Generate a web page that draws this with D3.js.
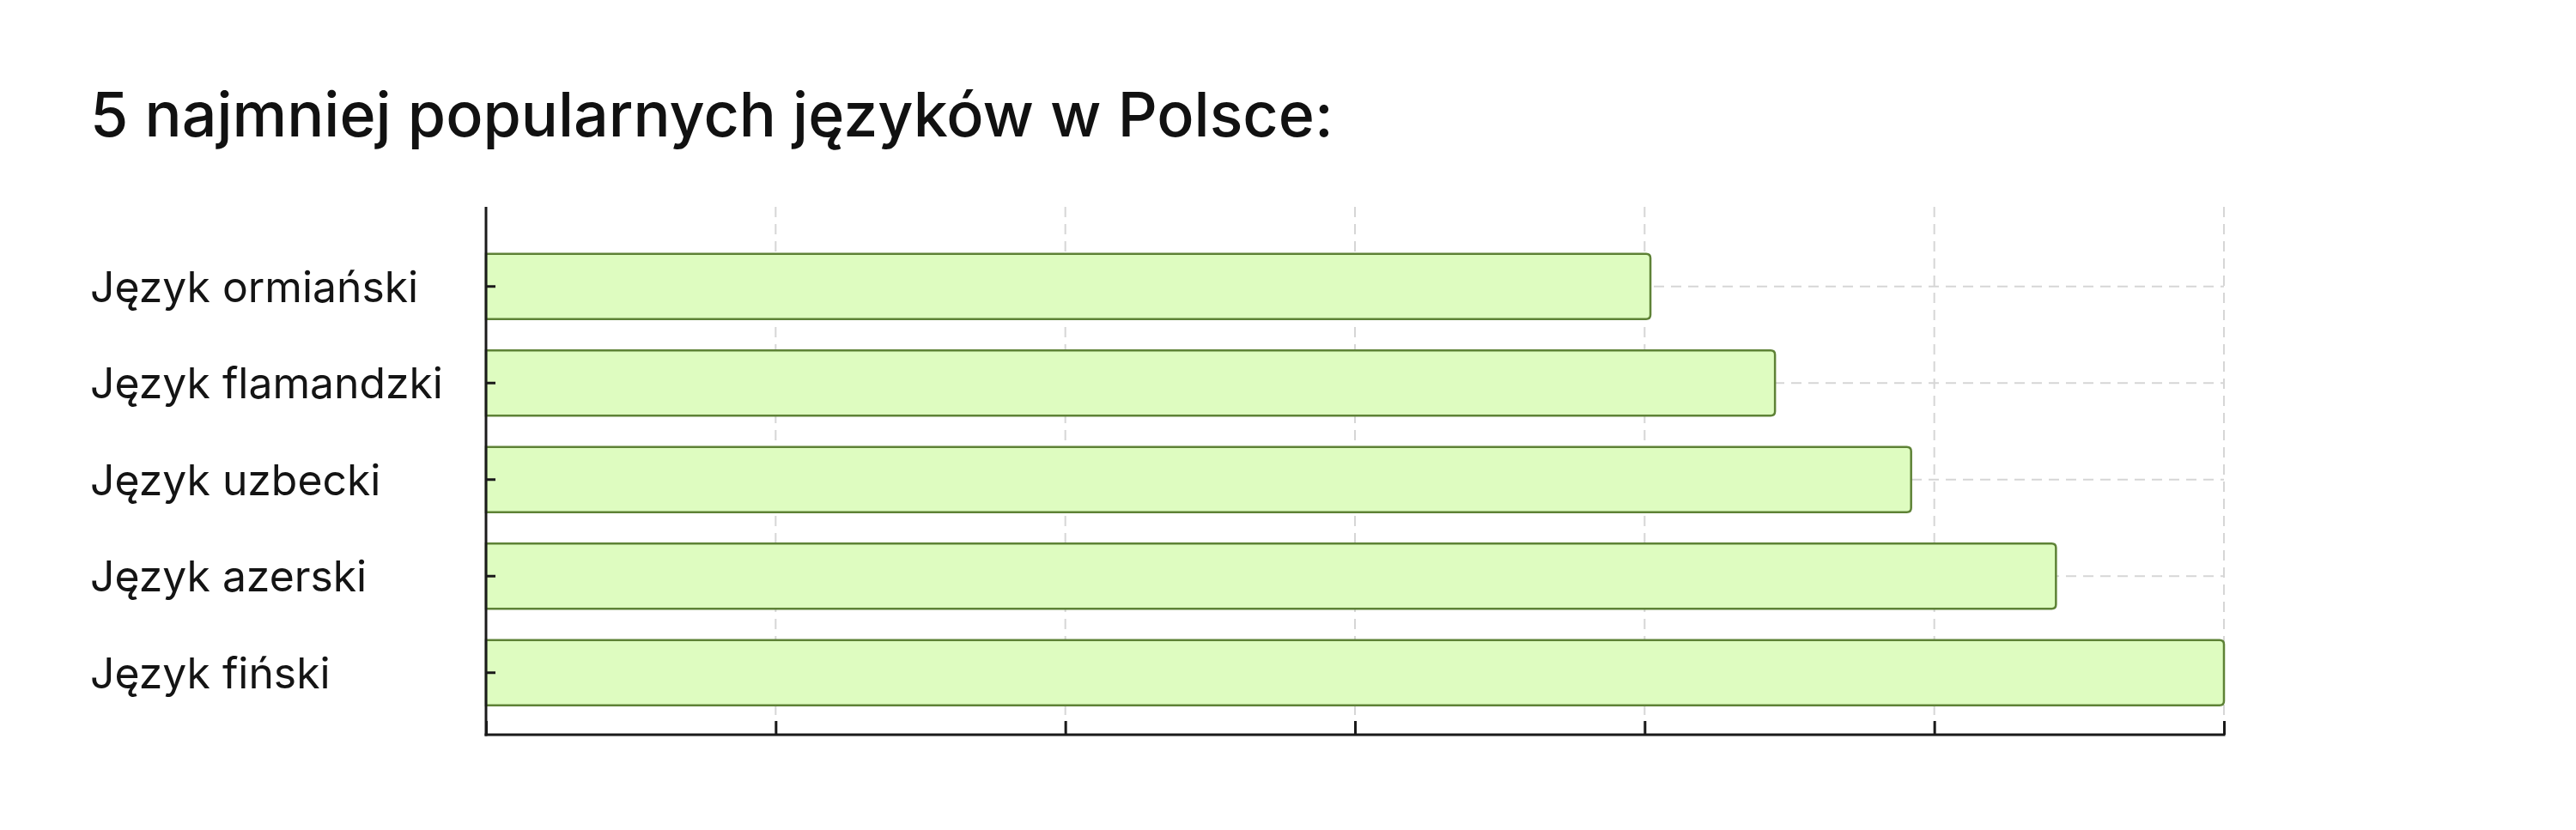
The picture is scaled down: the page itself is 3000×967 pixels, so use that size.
<!DOCTYPE html>
<html>
<head>
<meta charset="utf-8">
<script src="https://cdn.jsdelivr.net/npm/d3@7"></script>
<style>
  html, body { margin: 0; padding: 0; background: #ffffff; }
  svg { display: block; }
</style>
</head>
<body>
<svg id="chart" width="3000" height="967"></svg>
<script>
// ---- data ----
const title = "5 najmniej popularnych języków w Polsce:";
const categories = ["Język ormiański", "Język flamandzki", "Język uzbecki", "Język azerski", "Język fiński"];
const values = [402, 445, 492, 542, 600];
const xTicks = [0, 100, 200, 300, 400, 500, 600];

// ---- layout ----
const W = 3000, H = 967;
const plotLeft = 566, plotRight = 2590, plotTop = 241, plotBottom = 856;
const fontFamily = "Inter, 'Noto Sans', sans-serif";

const svg = d3.select("#chart");
svg.append("rect").attr("width", W).attr("height", H).attr("fill", "#ffffff");

const x = d3.scaleLinear().domain([0, 600]).range([plotLeft, plotRight]);
const y = d3.scaleBand().domain(categories).range([277.5, 840])
  .paddingInner(0.324).paddingOuter(0.162);

// title
const t = svg.append("text")
  .attr("x", 105).attr("y", 159)
  .attr("font-family", fontFamily)
  .attr("font-size", 70)
  .attr("font-weight", 500)
  .attr("fill", "#111111")
  .text(title);
{
  const len = t.node().getComputedTextLength();
  t.attr("font-size", 70 * 1448 / len);
}

// vertical grid lines
svg.append("g").selectAll("line").data(xTicks.slice(1)).join("line")
  .attr("x1", d => x(d)).attr("x2", d => x(d))
  .attr("y1", plotTop).attr("y2", plotBottom)
  .attr("stroke", "#d6d6d6").attr("stroke-width", 2)
  .attr("stroke-dasharray", "12,8");

// horizontal grid lines at category centers
svg.append("g").selectAll("line").data(categories).join("line")
  .attr("x1", plotLeft).attr("x2", plotRight)
  .attr("y1", d => y(d) + y.bandwidth() / 2).attr("y2", d => y(d) + y.bandwidth() / 2)
  .attr("stroke", "#d6d6d6").attr("stroke-width", 2)
  .attr("stroke-dasharray", "12,8");

// bars: rounded right end, flat left end
const r = 5;
svg.append("g").selectAll("path").data(values).join("path")
  .attr("d", (v, i) => {
    const x0 = x(0), x1 = x(v), y0 = y(categories[i]), y1 = y0 + y.bandwidth();
    return `M${x0},${y0} L${x1 - r},${y0} Q${x1},${y0} ${x1},${y0 + r} L${x1},${y1 - r} Q${x1},${y1} ${x1 - r},${y1} L${x0},${y1} Z`;
  })
  .attr("fill", "#defcc0")
  .attr("stroke", "#5e8236")
  .attr("stroke-width", 2.5);

// y axis (ticks pointing inward)
const yAxis = d3.axisLeft(y).tickSize(-11).tickFormat("");
const gy = svg.append("g").attr("transform", `translate(${plotLeft},0)`).call(yAxis);
gy.select(".domain").remove();
gy.selectAll(".tick line").attr("stroke", "#1a1a1a").attr("stroke-width", 3);

// x axis (ticks pointing up, no labels)
const xAxis = d3.axisBottom(x).tickValues(xTicks).tickSize(-16).tickFormat("");
const gx = svg.append("g").attr("transform", `translate(0,${plotBottom})`).call(xAxis);
gx.select(".domain").remove();
gx.selectAll(".tick line").attr("stroke", "#1a1a1a").attr("stroke-width", 3);

// axis lines
svg.append("line").attr("x1", plotLeft).attr("x2", plotLeft)
  .attr("y1", plotTop).attr("y2", plotBottom + 1.5)
  .attr("stroke", "#1a1a1a").attr("stroke-width", 3);
svg.append("line").attr("x1", plotLeft - 1.5).attr("x2", plotRight + 1.5)
  .attr("y1", plotBottom).attr("y2", plotBottom)
  .attr("stroke", "#1a1a1a").attr("stroke-width", 3);

// category labels, left aligned
const labels = svg.append("g").selectAll("text").data(categories).join("text")
  .attr("x", 105)
  .attr("y", d => y(d) + y.bandwidth() / 2)
  .attr("dy", "0.36em")
  .attr("font-family", fontFamily)
  .attr("font-size", 46)
  .attr("fill", "#141414")
  .text(d => d);
{
  const len = labels.filter((d, i) => i === 1).node().getComputedTextLength();
  labels.attr("font-size", 46 * 411 / len);
}
</script>
</body>
</html>
